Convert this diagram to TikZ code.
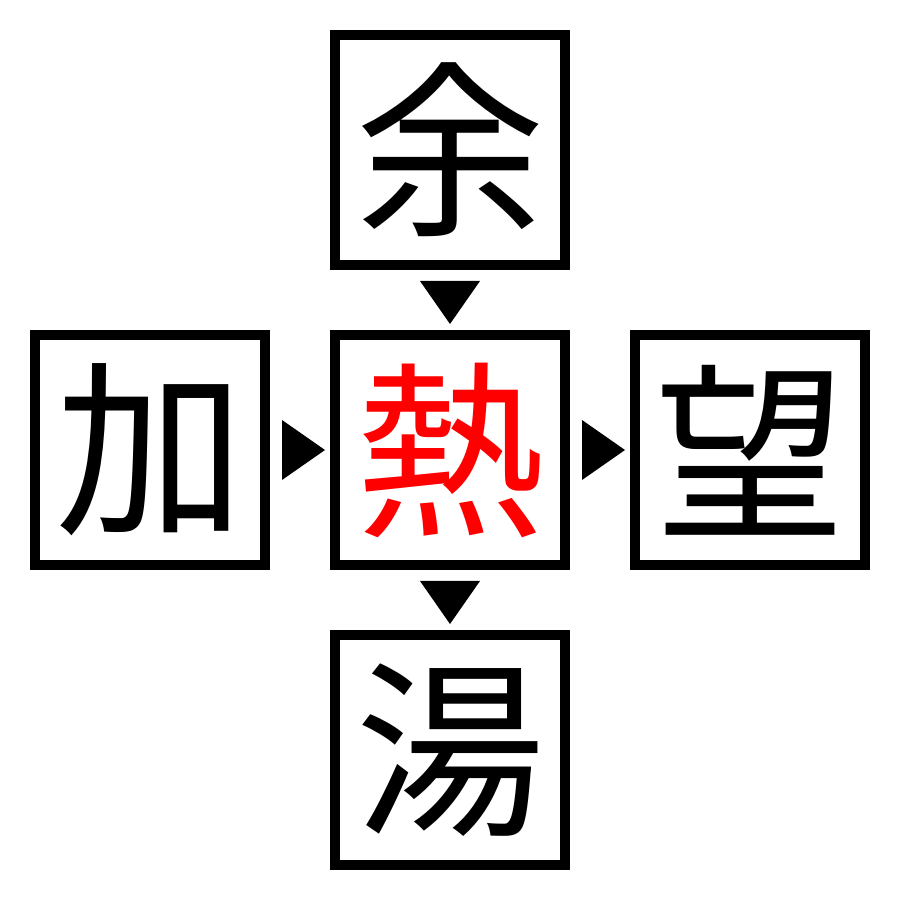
\documentclass[tikz,border=0pt]{standalone}
\usepackage{fontspec}
\newfontfamily\cjk{Noto Sans CJK JP}
\usetikzlibrary{calc}
\begin{document}
\begin{tikzpicture}
\useasboundingbox (0,0) rectangle (9,9);
\fill[white] (0,0) rectangle (9,9);
\tikzset{
  kbox/.style={draw=black, line width=0.1cm, minimum width=2.3cm, minimum height=2.3cm, inner sep=0pt, font=\cjk\fontsize{54}{54}\selectfont},
  marker/.style={fill=black}
}
\node[kbox] (top) at (4.5,7.5) {余};
\node[kbox, text=red] (mid) at (4.5,4.5) {熱};
\node[kbox] (left) at (1.5,4.5) {加};
\node[kbox] (right) at (7.5,4.5) {望};
\node[kbox] (bot) at (4.5,1.5) {湯};
\coordinate (a1) at ($(top.south)!0.5!(mid.north)$);
\coordinate (a2) at ($(mid.south)!0.5!(bot.north)$);
\coordinate (a3) at ($(left.east)!0.5!(mid.west)$);
\coordinate (a4) at ($(mid.east)!0.5!(right.west)$);
\fill[marker] ($(a1)+(-0.3,0.19)$) -- ($(a1)+(0.3,0.19)$) -- ($(a1)+(0,-0.24)$) -- cycle;
\fill[marker] ($(a2)+(-0.3,0.19)$) -- ($(a2)+(0.3,0.19)$) -- ($(a2)+(0,-0.24)$) -- cycle;
\fill[marker] ($(a3)+(-0.18,0.3)$) -- ($(a3)+(-0.18,-0.3)$) -- ($(a3)+(0.25,0)$) -- cycle;
\fill[marker] ($(a4)+(-0.18,0.3)$) -- ($(a4)+(-0.18,-0.3)$) -- ($(a4)+(0.25,0)$) -- cycle;
\end{tikzpicture}
\end{document}
